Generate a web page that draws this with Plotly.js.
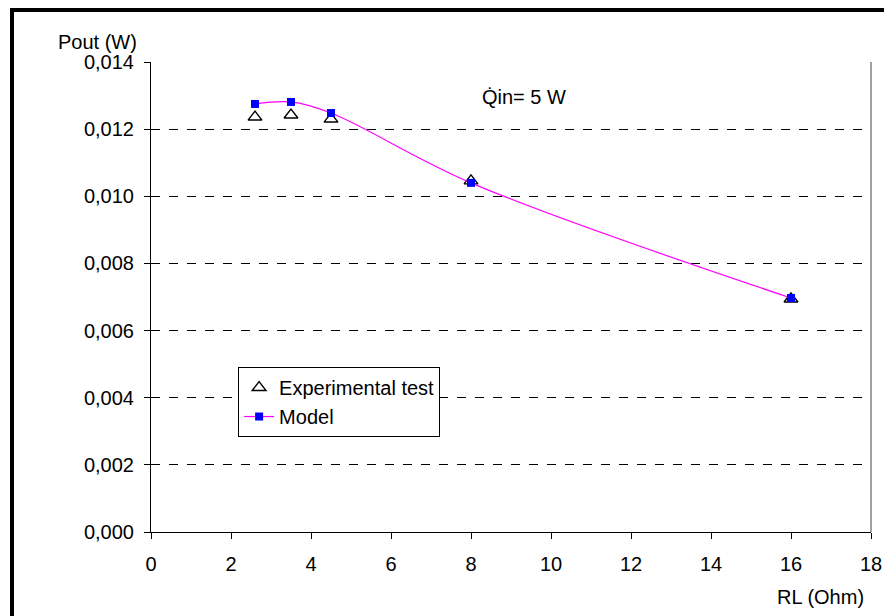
<!DOCTYPE html>
<html>
<head>
<meta charset="utf-8">
<script src="https://cdn.plot.ly/plotly-3.0.1.min.js"></script>
<style>
  html, body { margin: 0; padding: 0; background: #fff; }
  #wrap { position: relative; width: 884px; height: 616px; overflow: hidden; }
  #chart { position: absolute; left: 0; top: 0; width: 884px; height: 616px; }
  #frameL { position: absolute; left: 10px; top: 8px; width: 4px; height: 620px; background: #000; }
  #frameT { position: absolute; left: 10px; top: 8px; width: 880px; height: 4px; background: #000; }
</style>
</head>
<body>
<div id="wrap">
  <div id="chart"></div>
  <div id="frameL"></div>
  <div id="frameT"></div>
</div>
<script>
// Data
const expRL   = [2.6, 3.5, 4.5, 8, 16];
const expPout = [0.01236, 0.01242, 0.01230, 0.01046, 0.00694];

const modelRL   = [2.6, 3.5, 4.5, 8, 16];
const modelPout = [0.01275, 0.01281, 0.01248, 0.01040, 0.00697];

const xTicks = [0, 2, 4, 6, 8, 10, 12, 14, 16, 18];
const yTicks = [0, 0.002, 0.004, 0.006, 0.008, 0.010, 0.012, 0.014];

const FONT = 'Liberation Sans, Arial, sans-serif';
const FS = 20;

const traces = [
  {
    x: expRL, y: expPout,
    name: 'Experimental test',
    mode: 'markers',
    type: 'scatter',
    marker: { symbol: 'triangle-up-open', size: 12, color: '#000', line: { width: 1.4, color: '#000' } }
  },
  {
    x: modelRL, y: modelPout,
    name: 'Model',
    mode: 'lines+markers',
    type: 'scatter',
    line: { color: '#FF00FF', width: 1.2, shape: 'spline', smoothing: 1 },
    marker: { symbol: 'square', size: 8, color: '#0000FF', line: { width: 0 } }
  }
];

const layout = {
  width: 884, height: 616,
  margin: { l: 151, r: 13, t: 62, b: 84 },
  paper_bgcolor: '#fff',
  plot_bgcolor: '#fff',
  separators: ', ',
  font: { family: FONT, size: FS, color: '#000' },
  showlegend: true,
  legend: {
    x: 0.121, y: 0.351, xanchor: 'left', yanchor: 'top',
    bgcolor: '#fff', bordercolor: '#000', borderwidth: 1,
    font: { family: FONT, size: FS, color: '#000' },
    tracegroupgap: 0, itemwidth: 30
  },
  xaxis: {
    range: [0, 18],
    tickmode: 'array', tickvals: xTicks, ticktext: xTicks.map(String),
    showgrid: false, zeroline: false,
    showline: true, linecolor: '#000', linewidth: 1,
    ticks: 'outside', ticklen: 6, tickcolor: '#000',
    ticklabelstandoff: 8,
    tickfont: { family: FONT, size: FS, color: '#000' },
    fixedrange: true
  },
  yaxis: {
    range: [0, 0.014],
    tickmode: 'array', tickvals: yTicks,
    ticktext: yTicks.map(v => v.toFixed(3).replace('.', ',')),
    showgrid: true, gridcolor: '#000', gridwidth: 1, griddash: 'dash',
    zeroline: false,
    showline: true, linecolor: '#000', linewidth: 1,
    ticks: 'outside', ticklen: 6, tickcolor: '#000',
    ticklabelstandoff: 6,
    tickfont: { family: FONT, size: FS, color: '#000' },
    fixedrange: true
  },
  shapes: [
    { type: 'line', xref: 'paper', yref: 'paper', x0: 1, x1: 1, y0: 0, y1: 1,
      line: { color: '#808080', width: 1.5 } }
  ],
  annotations: [
    { text: 'Pout (W)', xref: 'paper', yref: 'paper', x: -0.075, y: 1.015,
      xanchor: 'center', yanchor: 'bottom', showarrow: false,
      font: { family: FONT, size: FS, color: '#000' } },
    { text: 'RL (Ohm)', xref: 'paper', yref: 'paper', x: 0.93, y: -0.11,
      xanchor: 'center', yanchor: 'top', showarrow: false,
      font: { family: FONT, size: FS, color: '#000' } },
    { text: 'Q\u0307in= 5 W', xref: 'paper', yref: 'paper', x: 0.457, y: 0.925,
      xanchor: 'left', yanchor: 'middle', showarrow: false,
      font: { family: FONT, size: FS, color: '#000' } }
  ]
};

Plotly.newPlot('chart', traces, layout, { displayModeBar: false, staticPlot: true });
</script>
</body>
</html>
